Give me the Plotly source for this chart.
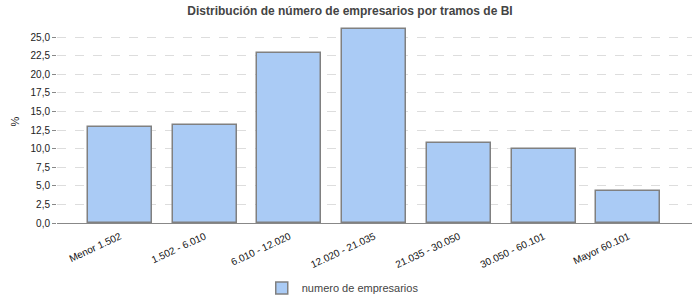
import plotly.graph_objects as go

categories = ["Menor 1.502", "1.502 - 6.010", "6.010 - 12.020", "12.020 - 21.035",
              "21.035 - 30.050", "30.050 - 60.101", "Mayor 60.101"]
values = [12.86, 13.13, 22.8, 26.03, 10.8, 9.9, 4.26]
series_name = "numero de empresarios"
title = "Distribución de número de empresarios por tramos de BI"
y_ticks = [0, 2.5, 5, 7.5, 10, 12.5, 15, 17.5, 20, 22.5, 25]

fig = go.Figure()
fig.add_trace(go.Bar(
    x=list(range(len(categories))), y=values, name=series_name,
    width=0.755,
    marker=dict(color="#AACBF5", line=dict(color="#808080", width=1.5)),
    showlegend=True,
))

fig.update_layout(
    width=700, height=300,
    margin=dict(l=57, r=8, t=20, b=77, autoexpand=False),
    paper_bgcolor="white", plot_bgcolor="white",
    separators=",.",
    title=dict(text="<b>" + title + "</b>", x=0.5, xanchor="center",
               y=0.965, yanchor="middle",
               font=dict(family="Liberation Sans, Arial", size=12, color="#444444")),
    font=dict(family="Liberation Sans, Arial", size=10, color="#222222"),
    bargap=0,
    showlegend=True,
    legend=dict(orientation="h", x=0.45, xanchor="center", yref="container",
                y=0.04, yanchor="middle",
                font=dict(size=11, color="#444444"), itemwidth=30,
                traceorder="normal"),
    xaxis=dict(
        tickmode="array", tickvals=list(range(len(categories))), ticktext=categories,
        tickangle=-25, range=[-0.743, 6.75], automargin=False,
        showgrid=False, zeroline=False,
        showline=True, linecolor="#888888", linewidth=1,
        ticks="outside", ticklen=3, tickcolor="rgba(0,0,0,0)",
        tickfont=dict(size=10, color="#111111"),
    ),
    yaxis=dict(
        range=[0, 27.3], tickmode="array", tickvals=y_ticks, tickformat=".1f",
        automargin=False,
        showgrid=True, gridcolor="#DDDDDD", griddash="dash", gridwidth=1,
        zeroline=False, showline=False,
        ticks="outside", ticklen=4, tickcolor="#888888",
        tickfont=dict(size=10, color="#222222"),
        title=dict(text="%", font=dict(size=11, color="#222222"), standoff=8),
    ),
)

fig.write_html("out.html")
